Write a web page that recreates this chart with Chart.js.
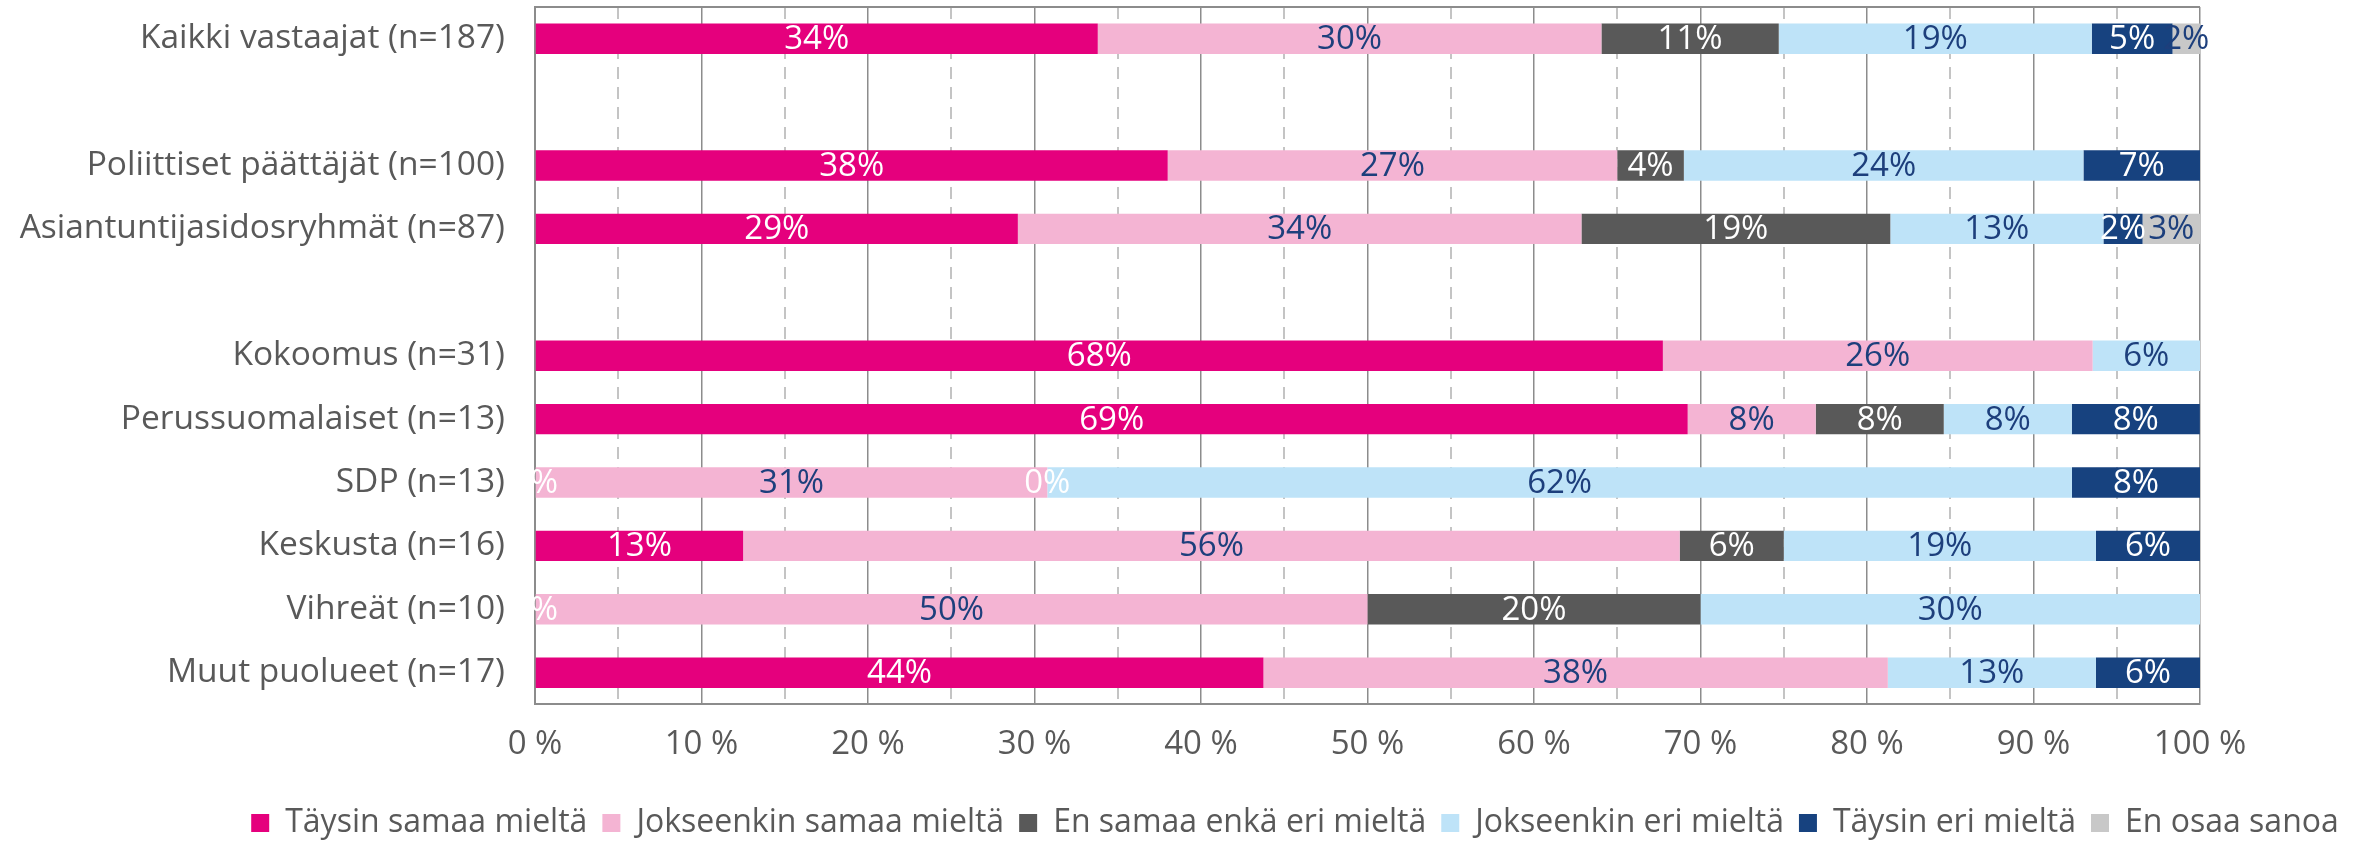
<!DOCTYPE html>
<html>
<head>
<meta charset="utf-8">
<script src="https://cdn.jsdelivr.net/npm/chart.js@4"></script>
<style>
html,body{margin:0;padding:0;background:#fff;}
#c{display:block;}
</style>
</head>
<body>
<canvas id="c" width="2364" height="841"></canvas>
<script>
// ---------- DATA ----------
const categories = [
  'Kaikki vastaajat (n=187)',
  '',
  'Poliittiset päättäjät (n=100)',
  'Asiantuntijasidosryhmät (n=87)',
  '',
  'Kokoomus (n=31)',
  'Perussuomalaiset (n=13)',
  'SDP (n=13)',
  'Keskusta (n=16)',
  'Vihreät (n=10)',
  'Muut puolueet (n=17)'
];
const seriesNames = [
  'Täysin samaa mieltä',
  'Jokseenkin samaa mieltä',
  'En samaa enkä eri mieltä',
  'Jokseenkin eri mieltä',
  'Täysin eri mieltä',
  'En osaa sanoa'
];
const taysinSamaa     = [33.8,  null, 38, 29,    null, 67.74, 69.23, 0,     12.5,  0,    43.75];
const jokseenkinSamaa = [30.25, null, 27, 33.85, null, 25.81, 7.69,  30.77, 56.25, 50,   37.5];
const enSamaaEnkaEri  = [10.65, null, 4,  18.55, null, null,  7.69,  0,     6.25,  20,   null];
const jokseenkinEri   = [18.8,  null, 24, 12.8,  null, 6.45,  7.69,  61.54, 18.75, 30,   12.5];
const taysinEri       = [4.85,  null, 7,  2.35,  null, null,  7.69,  7.69,  6.25,  null, 6.25];
const enOsaaSanoa     = [1.65,  null, null, 3.45, null, null, null,  null,  null,  null, null];
const xTickLabels = ['0 %','10 %','20 %','30 %','40 %','50 %','60 %','70 %','80 %','90 %','100 %'];

// ---------- STYLE ----------
const FONT = '"Open Sans", "Noto Sans", sans-serif';
const seriesColors = ['#e5007d', '#f4b4d3', '#595959', '#bee3f8', '#17427f', '#c8c8c8'];
const labelColors  = ['#ffffff', '#1d3f7c', '#ffffff', '#1d3f7c', '#ffffff', '#1d3f7c'];
const seriesData = [taysinSamaa, jokseenkinSamaa, enSamaaEnkaEri, jokseenkinEri, taysinEri, enOsaaSanoa];
const AXIS_GRAY = '#8c8c8c';
const TEXT_GRAY = '#595959';

const valueLabels = {
  id: 'valueLabels',
  afterDatasetsDraw(chart) {
    const ctx = chart.ctx;
    ctx.save();
    ctx.font = '33px ' + FONT;
    ctx.textAlign = 'center';
    ctx.textBaseline = 'middle';
    chart.data.datasets.forEach((ds, di) => {
      const meta = chart.getDatasetMeta(di);
      meta.data.forEach((bar, i) => {
        const v = ds.data[i];
        if (v === null || v === undefined) return;
        const p = bar.getProps(['x', 'base', 'y'], true);
        ctx.fillStyle = labelColors[di];
        ctx.fillText(Math.round(v) + '%', (p.x + p.base) / 2, p.y + 1);
      });
    });
    ctx.restore();
  }
};

const frameTop = {
  id: 'frameTop',
  beforeDatasetsDraw(chart) {
    const a = chart.chartArea, ctx = chart.ctx;
    ctx.save();
    ctx.strokeStyle = AXIS_GRAY;
    ctx.lineWidth = 2;
    ctx.beginPath();
    ctx.moveTo(a.left, a.top);
    ctx.lineTo(a.right, a.top);
    ctx.stroke();
    ctx.restore();
  }
};

const legendShift = {
  id: 'legendShift',
  afterLayout(chart) {
    const lg = chart.legend;
    if (!lg) return;
    const target = 1295;
    const dx = target - (lg.left + lg.right) / 2;
    lg.left += dx; lg.right += dx;
    lg.top += 8; lg.bottom += 8;
  }
};

new Chart(document.getElementById('c'), {
  type: 'bar',
  data: {
    labels: categories,
    datasets: seriesNames.map((name, i) => ({
      label: name,
      data: seriesData[i],
      backgroundColor: seriesColors[i],
      borderWidth: 0,
      barPercentage: 0.48,
      categoryPercentage: 1
    }))
  },
  options: {
    indexAxis: 'y',
    responsive: false,
    animation: false,
    devicePixelRatio: 1,
    layout: { padding: { top: 7, right: 164, left: 0, bottom: 0 } },
    plugins: {
      legend: {
        position: 'bottom',
        align: 'center',
        labels: {
          color: TEXT_GRAY,
          font: { family: FONT, size: 32 },
          boxWidth: 18,
          boxHeight: 18,
          padding: 15
        }
      },
      tooltip: { enabled: false }
    },
    scales: {
      x: {
        stacked: true,
        min: 0,
        max: 100,
        ticks: {
          stepSize: 5,
          color: TEXT_GRAY,
          font: { family: FONT, size: 33 },
          padding: 20,
          maxRotation: 0,
          autoSkip: false,
          callback: (v) => (v % 10 === 0 ? xTickLabels[v / 10] : '')
        },
        grid: {
          drawTicks: false,
          color: (c) => (c.tick && c.tick.value % 10 !== 0 ? '#c4c4c4' : AXIS_GRAY),
          lineWidth: (c) => (c.tick && c.tick.value % 10 !== 0 ? 2 : 1.5)
        },
        border: {
          color: AXIS_GRAY,
          width: 2,
          dash: (c) => (c.tick && c.tick.value % 10 !== 0 ? [12, 8] : [])
        }
      },
      y: {
        stacked: true,
        ticks: {
          color: TEXT_GRAY,
          font: { family: FONT, size: 33.5 },
          padding: 30,
          autoSkip: false
        },
        grid: { display: false, drawTicks: false },
        border: { color: AXIS_GRAY, width: 2 },
        afterFit(scale) {
          scale.width = 535;
          scale.paddingTop = 0;
          scale.paddingBottom = 0;
        }
      }
    }
  },
  plugins: [valueLabels, frameTop, legendShift]
});
</script>
</body>
</html>
